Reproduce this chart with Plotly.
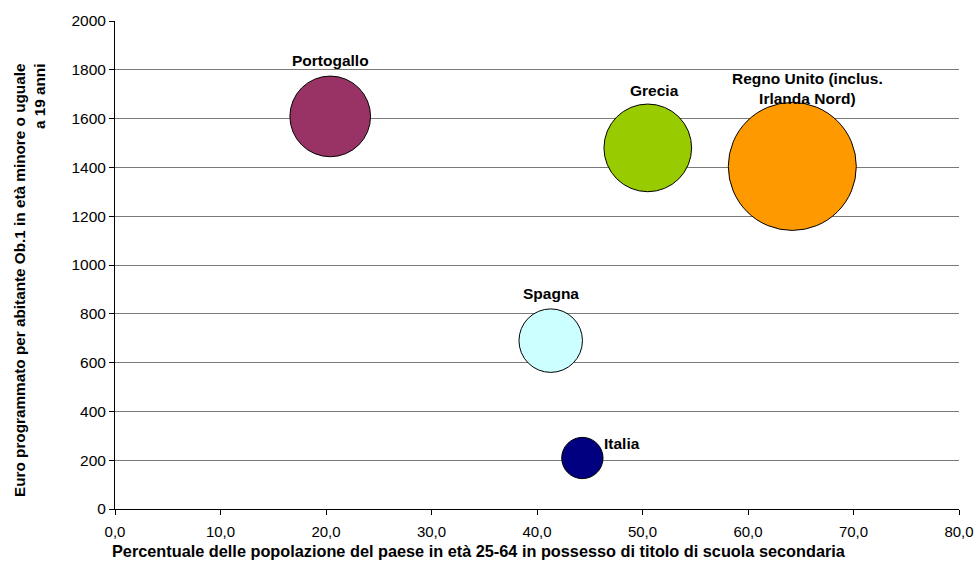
import plotly.graph_objects as go

# Data
countries = ["Portogallo", "Grecia", "Regno Unito (inclus.<br>Irlanda Nord)", "Spagna", "Italia"]
pct_secondary = [20.4, 50.5, 64.2, 41.3, 44.3]
euro_per_head = [1609, 1480, 1404, 690, 209]
bubble_value = [39.7, 46.9, 100.0, 24.6, 10.4]

x_title = "Percentuale delle popolazione del paese in età 25-64 in possesso di titolo di scuola secondaria"
y_title = "Euro programmato per abitante Ob.1 in età minore o uguale<br>a 19 anni"

colors = ["#993366", "#99CC00", "#FF9900", "#CCFFFF", "#000080"]
# label offsets in px relative to the bubble centre (x, y)
label_shift = [(0, 56), (7, 57), (15, 78), (0, 47), (40, 15)]

FONT = "Arial, Liberation Sans, sans-serif"
max_diameter = 128
sizeref = 2.0 * max(bubble_value) / max_diameter**2

fig = go.Figure()
fig.add_trace(
    go.Scatter(
        x=pct_secondary,
        y=euro_per_head,
        mode="markers",
        marker=dict(
            size=bubble_value,
            sizemode="area",
            sizeref=sizeref,
            color=colors,
            opacity=1,
            line=dict(color="black", width=1),
        ),
        hovertext=countries,
        showlegend=False,
    )
)

for name, x, y, (dx, dy) in zip(countries, pct_secondary, euro_per_head, label_shift):
    fig.add_annotation(
        x=x, y=y, text=f"<b>{name}</b>", showarrow=False,
        xshift=dx, yshift=dy, font=dict(family=FONT, size=15.5, color="black"),
    )

# axis titles as free annotations (Excel offsets them from the plot centre)
fig.add_annotation(
    xref="paper", yref="paper", x=0.431, y=0, yshift=-42,
    xanchor="center", yanchor="middle", showarrow=False,
    text=f"<b>{x_title}</b>", font=dict(family=FONT, size=16.3, color="black"),
)
fig.add_annotation(
    xref="paper", yref="paper", x=-0.102, y=0.469,
    xanchor="center", yanchor="middle", showarrow=False, textangle=-90, align="right",
    text=f"<b>{y_title}</b>", font=dict(family=FONT, size=15.3, color="black"),
)

fig.update_layout(
    width=976,
    height=566,
    margin=dict(l=115, r=17, t=21, b=57),
    paper_bgcolor="white",
    plot_bgcolor="white",
    separators=",.",
    font=dict(family=FONT, size=15, color="black"),
    xaxis=dict(
        range=[0, 80],
        dtick=10,
        tickformat=".1f",
        showgrid=False,
        zeroline=False,
        showline=True,
        linecolor="black",
        linewidth=1,
        ticks="outside",
        ticklen=5,
        tickcolor="black",
        ticklabelstandoff=4,
        automargin=False,
    ),
    yaxis=dict(
        range=[0, 2000],
        dtick=200,
        tickformat="d",
        tickfont=dict(size=15.5),
        showgrid=True,
        gridcolor="#7a7a7a",
        gridwidth=1,
        zeroline=False,
        showline=True,
        linecolor="black",
        linewidth=1,
        ticks="outside",
        ticklen=5,
        tickcolor="black",
        automargin=False,
    ),
)

fig.write_html(
    "out.html",
    config={"displayModeBar": False},
    post_script="document.body.style.margin='0';",
)
